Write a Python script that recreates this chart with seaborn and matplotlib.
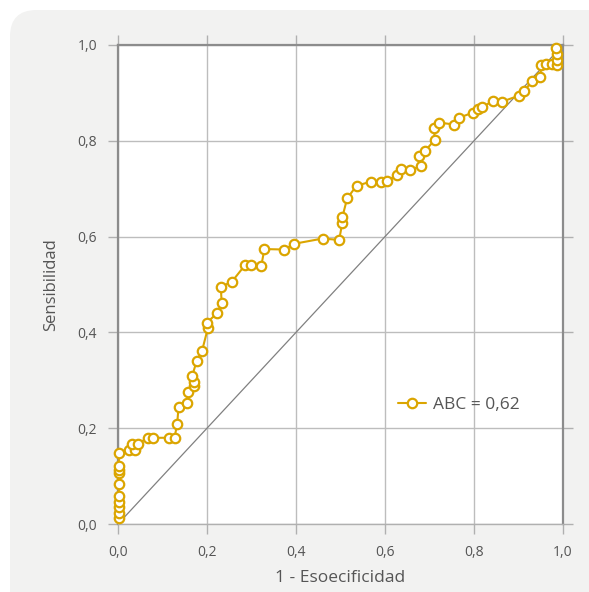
import matplotlib
matplotlib.use("Agg")
import matplotlib.pyplot as plt
from matplotlib.patches import FancyBboxPatch
from matplotlib.ticker import FixedLocator, FuncFormatter
import seaborn as sns
import pandas as pd

# ROC curve points (1 - specificity, sensitivity)
fpr = [0.002, 0.002, 0.002, 0.002, 0.002, 0.002, 0.002, 0.002, 0.002, 0.002,
       0.024, 0.0375, 0.032, 0.046, 0.067, 0.079, 0.114, 0.127, 0.133, 0.136,
       0.156, 0.157, 0.170, 0.170, 0.167, 0.177, 0.189, 0.202, 0.199, 0.223,
       0.233, 0.231, 0.256, 0.286, 0.298, 0.322, 0.329, 0.374, 0.396, 0.460,
       0.497, 0.504, 0.504, 0.515, 0.536, 0.569, 0.590, 0.605, 0.626, 0.636,
       0.656, 0.680, 0.676, 0.690, 0.712, 0.710, 0.722, 0.755, 0.766, 0.798,
       0.809, 0.819, 0.843, 0.864, 0.900, 0.912, 0.930, 0.949, 0.951, 0.962,
       0.975, 0.987, 0.987, 0.986, 0.984]
tpr = [0.012, 0.024, 0.035, 0.046, 0.058, 0.083, 0.107, 0.113, 0.121, 0.148,
       0.155, 0.154, 0.168, 0.168, 0.180, 0.180, 0.180, 0.180, 0.209, 0.244,
       0.253, 0.276, 0.288, 0.297, 0.310, 0.341, 0.362, 0.409, 0.420, 0.440,
       0.461, 0.495, 0.506, 0.541, 0.541, 0.539, 0.574, 0.573, 0.585, 0.596,
       0.593, 0.629, 0.640, 0.680, 0.706, 0.715, 0.715, 0.716, 0.728, 0.741,
       0.739, 0.747, 0.769, 0.779, 0.802, 0.826, 0.838, 0.834, 0.848, 0.859,
       0.866, 0.871, 0.883, 0.882, 0.894, 0.903, 0.924, 0.933, 0.958, 0.960,
       0.960, 0.958, 0.969, 0.981, 0.993]
ref_x = [0.0, 1.0]
ref_y = [0.0, 1.0]
ticks = [0.0, 0.2, 0.4, 0.6, 0.8, 1.0]
legend_label = "ABC = 0,62"
x_label = "1 - Esoecificidad"
y_label = "Sensibilidad"

sns.set_style("white")
plt.rcParams['font.family'] = ['Open Sans', 'DejaVu Sans']

GOLD = "#DBA500"
TEXT = "#555555"

W, H = 589, 592
fig = plt.figure(figsize=(W / 100, H / 100), dpi=100)
fig.patch.set_facecolor("white")
bg = FancyBboxPatch((10 / W, -0.3), 1.2, 1 - 10 / H + 0.3,
                    boxstyle="round,pad=0,rounding_size=0.045",
                    transform=fig.transFigure, facecolor="#f2f2f1", edgecolor="none",
                    zorder=-10, mutation_aspect=W / H)
fig.patches.append(bg)

ax = fig.add_axes([118 / W, (H - 524) / H, 445 / W, 479 / H])
ax.set_facecolor("white")

df = pd.DataFrame({"fpr": fpr, "tpr": tpr})
ax.plot(ref_x, ref_y, color="#808080", lw=0.9, zorder=2)
sns.lineplot(data=df, x="fpr", y="tpr", sort=False, estimator=None, ax=ax,
             color=GOLD, lw=1.5, marker="o", markersize=6.8,
             markerfacecolor="white", markeredgecolor=GOLD, markeredgewidth=1.6,
             label=legend_label, zorder=3, clip_on=False)

ax.set_xlim(0, 1)
ax.set_ylim(0, 1)
ax.xaxis.set_major_locator(FixedLocator(ticks))
ax.yaxis.set_major_locator(FixedLocator(ticks))
fmt = FuncFormatter(lambda v, p: f"{v:.1f}".replace(".", ","))
ax.xaxis.set_major_formatter(fmt)
ax.yaxis.set_major_formatter(fmt)
ax.grid(True, color="#bdbdbd", lw=1.0)
ax.set_axisbelow(True)
ax.tick_params(axis="both", which="both", direction="out", length=7, width=1,
               color="#b0b0b0", labelcolor=TEXT, labelsize=10, pad=8,
               top=True, right=True, bottom=True, left=True)
for side in ["left", "top", "right"]:
    ax.spines[side].set_color("#8c8c8c")
    ax.spines[side].set_linewidth(1.6)
ax.spines["bottom"].set_color("#b0b0b0")
ax.spines["bottom"].set_linewidth(1.0)

ax.set_xlabel(x_label, fontsize=12.5, color=TEXT, labelpad=7)
ax.set_ylabel(y_label, fontsize=12, color=TEXT, labelpad=13)

leg = ax.legend(loc="center left", bbox_to_anchor=(0.595, 0.248), frameon=False,
                handlelength=1.6, handletextpad=0.4, fontsize=12.5, labelcolor=TEXT)

fig.savefig("out.png", dpi=100, facecolor=fig.get_facecolor())
